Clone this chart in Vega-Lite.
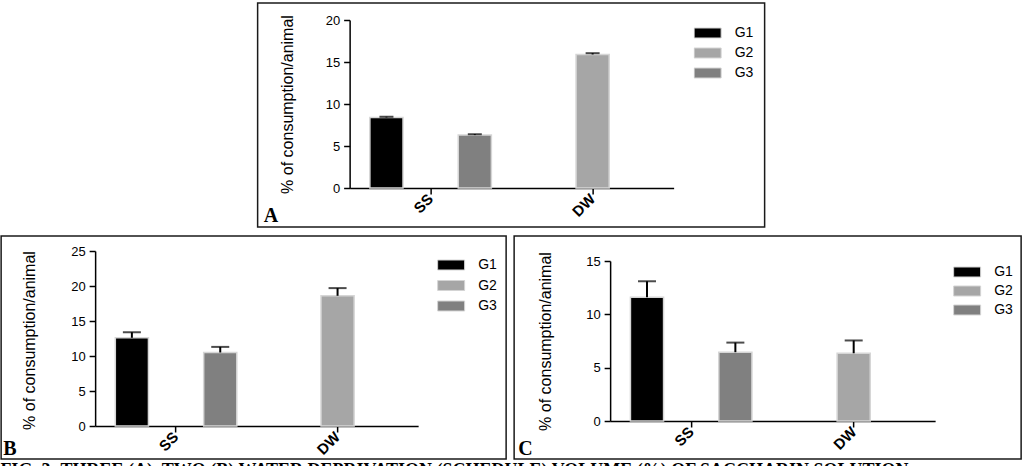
{
  "$schema": "https://vega.github.io/schema/vega-lite/v6.json",
  "padding": {"left": 0, "top": 2, "right": 0, "bottom": 0},
  "background": "white",
  "config": {
    "font": "Liberation Sans",
    "view": {"stroke": "#1a1a1a", "strokeWidth": 1.5},
    "axis": {
      "domainColor": "#000000", "domainWidth": 1.5,
      "tickColor": "#000000", "tickWidth": 1.5, "tickSize": 6,
      "labelColor": "#000000", "labelFont": "Liberation Sans",
      "titleColor": "#000000", "titleFont": "Liberation Sans",
      "titleFontSize": 16, "labelFontSize": 13,
      "grid": false
    },
    "axisX": {
      "labelAngle": -45, "labelAlign": "right", "labelBaseline": "middle",
      "labelFontSize": 15, "labelFontWeight": "bold", "labelPadding": 2
    },
    "axisY": {"labelFontSize": 13, "titleFontSize": 16},
    "legend": {
      "labelFont": "Liberation Sans", "labelFontSize": 14, "labelColor": "#000000",
      "symbolType": "M-1,-0.37H1V0.37H-1Z", "symbolSize": 729,
      "symbolStrokeColor": "#d4d4d4", "symbolStrokeWidth": 1,
      "symbolOpacity": 1, "labelOffset": 13, "padding": 0, "clipHeight": 12
    },
    "title": {"font": "Liberation Serif", "fontWeight": "bold", "color": "#000000"}
  },
  "datasets": {
    "a": [
      {"cond": "SS", "group": "G1", "mean": 8.4, "upper": 8.48},
      {"cond": "SS", "group": "G3", "mean": 6.3, "upper": 6.4},
      {"cond": "DW", "group": "G2", "mean": 15.9, "upper": 16.05}
    ],
    "b": [
      {"cond": "SS", "group": "G1", "mean": 12.6, "upper": 13.4},
      {"cond": "SS", "group": "G3", "mean": 10.5, "upper": 11.3},
      {"cond": "DW", "group": "G2", "mean": 18.6, "upper": 19.7}
    ],
    "c": [
      {"cond": "SS", "group": "G1", "mean": 11.6, "upper": 13.1},
      {"cond": "SS", "group": "G3", "mean": 6.45, "upper": 7.35},
      {"cond": "DW", "group": "G2", "mean": 6.35, "upper": 7.55}
    ]
  },
  "title": {
    "text": "FIG. 3: THREE (A), TWO (B) WATER DEPRIVATION (SCHEDULE) VOLUME (%) OF SACCHARIN SOLUTION",
    "orient": "bottom", "anchor": "start", "fontSize": 18, "offset": 2, "baseline": "top"
  },
  "resolve": {"scale": {"color": "independent"}, "legend": {"color": "independent"}},
  "center": true,
  "spacing": 7,
  "vconcat": [
    {
      "width": 507, "height": 224,
      "data": {"name": "a"},
      "title": {"text": "A", "orient": "bottom", "anchor": "start", "fontSize": 20, "baseline": "alphabetic", "offset": -5, "dx": 6},
      "resolve": {"axis": {"y": "independent"}},
      "encoding": {
        "x": {"field": "cond", "type": "nominal", "sort": ["SS", "DW"], "title": null,
          "scale": {"range": [92, 416], "paddingInner": 0.25, "paddingOuter": 0.125},
          "axis": {"offset": -39}},
        "xOffset": {"field": "group", "type": "nominal", "scale": {"domain": ["G1", "G2", "G3"], "paddingInner": 0.25, "paddingOuter": 0}}
      },
      "layer": [
        {
          "mark": {"type": "bar", "stroke": "#d6d6d6", "strokeWidth": 1.5},
          "encoding": {
            "y": {"field": "mean", "type": "quantitative", "title": "% of consumption/animal",
              "scale": {"domain": [0, 20], "range": [185, 17], "nice": false},
              "axis": {"offset": -92, "values": [0, 5, 10, 15, 20], "labelFontSize": 13, "labelPadding": 4,
                "titleFontSize": 16, "titleFontWeight": "normal", "titleAngle": 270, "titleAlign": "center", "titleBaseline": "middle",
                "titleX": -62, "titleY": 101}},
            "color": {"field": "group", "type": "nominal",
              "scale": {"domain": ["G1", "G2", "G3"], "range": ["#000000", "#a6a6a6", "#808080"]},
              "legend": {"orient": "none", "legendX": 436, "legendY": 24, "title": null, "rowPadding": 6}}
          }
        },
        {
          "mark": {"type": "rule", "strokeWidth": 2, "color": "#000000"},
          "encoding": {"y": {"field": "mean", "type": "quantitative", "axis": null}, "y2": {"field": "upper"}}
        },
        {
          "mark": {"type": "tick", "size": 14, "thickness": 2, "color": "#000000"},
          "encoding": {"y": {"field": "upper", "type": "quantitative", "axis": null}}
        }
      ]
    },
    {
      "spacing": 6,
      "resolve": {"scale": {"color": "independent"}, "legend": {"color": "independent"}},
      "hconcat": [
        {
          "width": 505, "height": 223,
          "data": {"name": "b"},
          "title": {"text": "B", "orient": "bottom", "anchor": "start", "fontSize": 20, "baseline": "alphabetic", "offset": -4, "dx": 2},
          "resolve": {"axis": {"y": "independent"}},
          "encoding": {
            "x": {"field": "cond", "type": "nominal", "sort": ["SS", "DW"], "title": null,
              "scale": {"range": [94, 417], "paddingInner": 0.25, "paddingOuter": 0.125},
              "axis": {"offset": -33}},
            "xOffset": {"field": "group", "type": "nominal", "scale": {"domain": ["G1", "G2", "G3"], "paddingInner": 0.25, "paddingOuter": 0}}
          },
          "layer": [
            {
              "mark": {"type": "bar", "stroke": "#d6d6d6", "strokeWidth": 1.5},
              "encoding": {
                "y": {"field": "mean", "type": "quantitative", "title": "% of consumption/animal",
                  "scale": {"domain": [0, 25], "range": [190, 15], "nice": false},
                  "axis": {"offset": -94, "values": [0, 5, 10, 15, 20, 25], "labelFontSize": 13, "labelPadding": 4,
                    "titleFontSize": 16, "titleFontWeight": "normal", "titleAngle": 270, "titleAlign": "center", "titleBaseline": "middle",
                    "titleX": -66, "titleY": 104}},
                "color": {"field": "group", "type": "nominal",
                  "scale": {"domain": ["G1", "G2", "G3"], "range": ["#000000", "#a6a6a6", "#808080"]},
                  "legend": {"orient": "none", "legendX": 436, "legendY": 23, "title": null, "rowPadding": 6.5}}
              }
            },
            {
              "mark": {"type": "rule", "strokeWidth": 2, "color": "#000000"},
              "encoding": {"y": {"field": "mean", "type": "quantitative", "axis": null}, "y2": {"field": "upper"}}
            },
            {
              "mark": {"type": "tick", "size": 18, "thickness": 2, "color": "#000000"},
              "encoding": {"y": {"field": "upper", "type": "quantitative", "axis": null}}
            }
          ]
        },
        {
          "width": 507, "height": 223,
          "data": {"name": "c"},
          "title": {"text": "C", "orient": "bottom", "anchor": "start", "fontSize": 20, "baseline": "alphabetic", "offset": -4, "dx": 4},
          "resolve": {"axis": {"y": "independent"}},
          "encoding": {
            "x": {"field": "cond", "type": "nominal", "sort": ["SS", "DW"], "title": null,
              "scale": {"range": [96, 421], "paddingInner": 0.25, "paddingOuter": 0.125},
              "axis": {"offset": -38}},
            "xOffset": {"field": "group", "type": "nominal", "scale": {"domain": ["G1", "G2", "G3"], "paddingInner": 0.25, "paddingOuter": 0}}
          },
          "layer": [
            {
              "mark": {"type": "bar", "stroke": "#d6d6d6", "strokeWidth": 1.5},
              "encoding": {
                "y": {"field": "mean", "type": "quantitative", "title": "% of consumption/animal",
                  "scale": {"domain": [0, 15], "range": [185, 25], "nice": false},
                  "axis": {"offset": -96, "values": [0, 5, 10, 15], "labelFontSize": 13, "labelPadding": 4,
                    "titleFontSize": 16, "titleFontWeight": "normal", "titleAngle": 270, "titleAlign": "center", "titleBaseline": "middle",
                    "titleX": -65, "titleY": 105}},
                "color": {"field": "group", "type": "nominal",
                  "scale": {"domain": ["G1", "G2", "G3"], "range": ["#000000", "#a6a6a6", "#808080"]},
                  "legend": {"orient": "none", "legendX": 439, "legendY": 30, "title": null, "rowPadding": 5}}
              }
            },
            {
              "mark": {"type": "rule", "strokeWidth": 2, "color": "#000000"},
              "encoding": {"y": {"field": "mean", "type": "quantitative", "axis": null}, "y2": {"field": "upper"}}
            },
            {
              "mark": {"type": "tick", "size": 18, "thickness": 2, "color": "#000000"},
              "encoding": {"y": {"field": "upper", "type": "quantitative", "axis": null}}
            }
          ]
        }
      ]
    }
  ]
}
